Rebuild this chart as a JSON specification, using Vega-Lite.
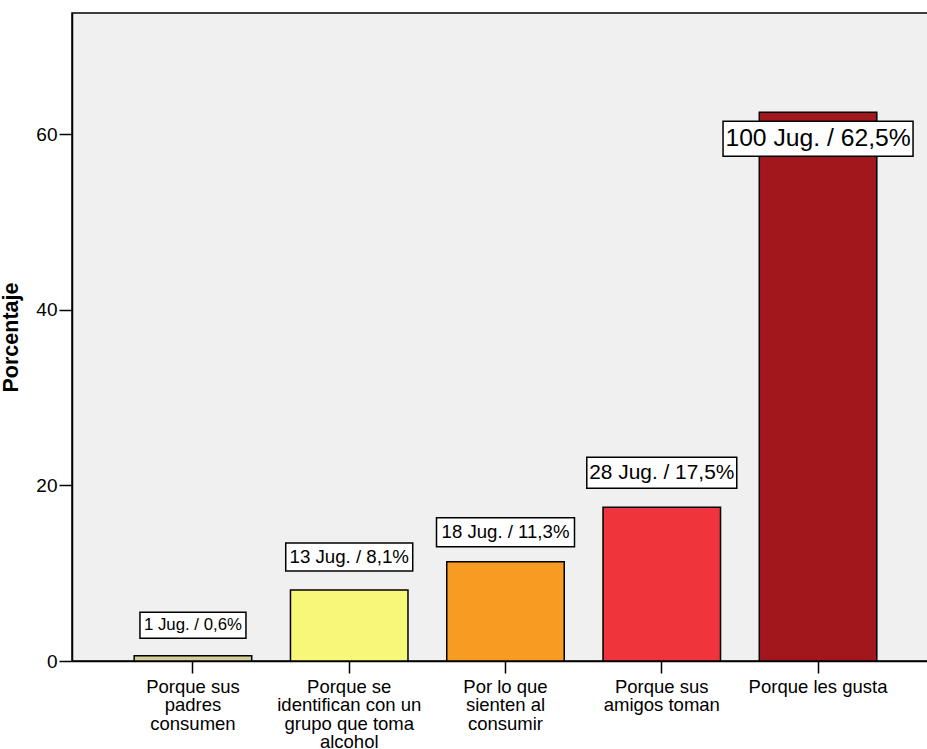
{
  "$schema": "https://vega.github.io/schema/vega-lite/v6.json",
  "autosize": "none",
  "width": 856,
  "height": 648,
  "padding": {"left": 72, "top": 13, "right": 0, "bottom": 88},
  "background": "white",
  "config": {
    "font": "Liberation Sans",
    "view": {"fill": "#f0f0f0", "stroke": "#000000", "strokeWidth": 1.5},
    "axis": {"grid": false, "domainColor": "#000000", "domainWidth": 1.5, "tickColor": "#000000", "tickWidth": 1.5, "labelColor": "#000000", "titleColor": "#000000", "labelFont": "Liberation Sans", "titleFont": "Liberation Sans"}
  },
  "data": {
    "values": [
      {"motivo": "Porque sus padres consumen", "n": 1, "pct": 0.6, "etiqueta": "1 Jug. / 0,6%"},
      {"motivo": "Porque se identifican con un grupo que toma alcohol", "n": 13, "pct": 8.1, "etiqueta": "13 Jug. / 8,1%"},
      {"motivo": "Por lo que sienten al consumir", "n": 18, "pct": 11.3, "etiqueta": "18 Jug. / 11,3%"},
      {"motivo": "Porque sus amigos toman", "n": 28, "pct": 17.5, "etiqueta": "28 Jug. / 17,5%"},
      {"motivo": "Porque les gusta", "n": 100, "pct": 62.5, "etiqueta": "100 Jug. / 62,5%"}
    ]
  },
  "encoding": {
    "x": {
      "field": "motivo",
      "type": "nominal",
      "sort": null,
      "scale": {"range": [0, 867], "paddingInner": 0.248, "paddingOuter": 0.398},
      "axis": {
        "title": null,
        "labelAngle": 0,
        "labelFontSize": 18.5,
        "labelLineHeight": 18.5,
        "labelBaseline": "top",
        "labelPadding": 4,
        "tickSize": 12,
        "labelLimit": 300,
        "labelExpr": "datum.value == 'Porque sus padres consumen' ? ['Porque sus', 'padres', 'consumen'] : datum.value == 'Porque se identifican con un grupo que toma alcohol' ? ['Porque se', 'identifican con un', 'grupo que toma', 'alcohol'] : datum.value == 'Por lo que sienten al consumir' ? ['Por lo que', 'sienten al', 'consumir'] : datum.value == 'Porque sus amigos toman' ? ['Porque sus', 'amigos toman'] : datum.value"
      }
    }
  },
  "layer": [
    {
      "mark": {"type": "bar", "stroke": "#000000", "strokeWidth": 1.5},
      "encoding": {
        "y": {
          "field": "pct",
          "type": "quantitative",
          "scale": {"domain": [0, 73.8], "nice": false, "zero": true},
          "axis": {
            "title": "Porcentaje",
            "titleFontSize": 21.5,
            "titleFontWeight": "bold",
            "titlePadding": 13,
            "values": [0, 20, 40, 60],
            "labelFontSize": 19,
            "labelPadding": 2,
            "tickSize": 13
          }
        },
        "color": {
          "field": "motivo",
          "type": "nominal",
          "scale": {
            "domain": ["Porque sus padres consumen", "Porque se identifican con un grupo que toma alcohol", "Por lo que sienten al consumir", "Porque sus amigos toman", "Porque les gusta"],
            "range": ["#d3cd95", "#f9f77a", "#f89b22", "#ef343c", "#a2171b"]
          },
          "legend": null
        }
      }
    },
    {
      "transform": [{"filter": "datum.motivo == 'Porque sus padres consumen'"}],
      "layer": [
        {"mark": {"type": "bar", "width": 106, "fill": "#ffffff", "stroke": "#000000", "strokeWidth": 1.5, "yOffset": -43.5, "y2Offset": -17.5},
         "encoding": {"y": {"field": "pct", "type": "quantitative"}, "y2": {"field": "pct"}}},
        {"mark": {"type": "text", "fontSize": 16.8, "baseline": "middle", "align": "center", "color": "#000000", "yOffset": -30.5},
         "encoding": {"y": {"field": "pct", "type": "quantitative"}, "text": {"field": "etiqueta"}}}
      ]
    },
    {
      "transform": [{"filter": "datum.motivo == 'Porque se identifican con un grupo que toma alcohol'"}],
      "layer": [
        {"mark": {"type": "bar", "width": 127, "fill": "#ffffff", "stroke": "#000000", "strokeWidth": 1.5, "yOffset": -47, "y2Offset": -19},
         "encoding": {"y": {"field": "pct", "type": "quantitative"}, "y2": {"field": "pct"}}},
        {"mark": {"type": "text", "fontSize": 18.7, "baseline": "middle", "align": "center", "color": "#000000", "yOffset": -33},
         "encoding": {"y": {"field": "pct", "type": "quantitative"}, "text": {"field": "etiqueta"}}}
      ]
    },
    {
      "transform": [{"filter": "datum.motivo == 'Por lo que sienten al consumir'"}],
      "layer": [
        {"mark": {"type": "bar", "width": 138, "fill": "#ffffff", "stroke": "#000000", "strokeWidth": 1.5, "yOffset": -44, "y2Offset": -15},
         "encoding": {"y": {"field": "pct", "type": "quantitative"}, "y2": {"field": "pct"}}},
        {"mark": {"type": "text", "fontSize": 18.6, "baseline": "middle", "align": "center", "color": "#000000", "yOffset": -29.5},
         "encoding": {"y": {"field": "pct", "type": "quantitative"}, "text": {"field": "etiqueta"}}}
      ]
    },
    {
      "transform": [{"filter": "datum.motivo == 'Porque sus amigos toman'"}],
      "layer": [
        {"mark": {"type": "bar", "width": 150, "fill": "#ffffff", "stroke": "#000000", "strokeWidth": 1.5, "yOffset": -50, "y2Offset": -19},
         "encoding": {"y": {"field": "pct", "type": "quantitative"}, "y2": {"field": "pct"}}},
        {"mark": {"type": "text", "fontSize": 20.9, "baseline": "middle", "align": "center", "color": "#000000", "yOffset": -34.5},
         "encoding": {"y": {"field": "pct", "type": "quantitative"}, "text": {"field": "etiqueta"}}}
      ]
    },
    {
      "transform": [{"filter": "datum.motivo == 'Porque les gusta'"}],
      "layer": [
        {"mark": {"type": "bar", "width": 190, "fill": "#ffffff", "stroke": "#000000", "strokeWidth": 1.5, "yOffset": 9, "y2Offset": 44},
         "encoding": {"y": {"field": "pct", "type": "quantitative"}, "y2": {"field": "pct"}}},
        {"mark": {"type": "text", "fontSize": 24.7, "baseline": "middle", "align": "center", "color": "#000000", "yOffset": 26.5},
         "encoding": {"y": {"field": "pct", "type": "quantitative"}, "text": {"field": "etiqueta"}}}
      ]
    }
  ]
}
